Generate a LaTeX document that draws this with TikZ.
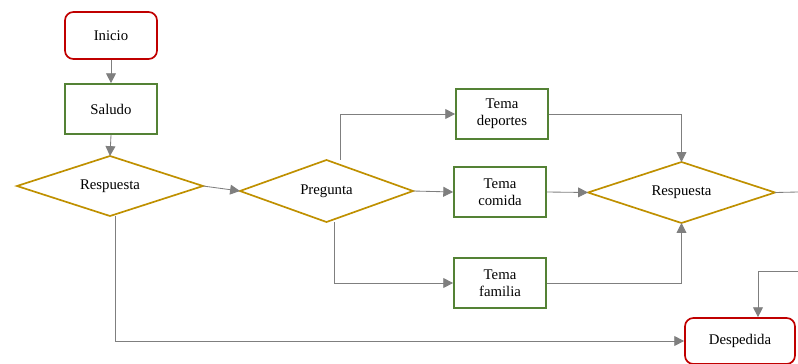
\documentclass[tikz,border=0pt]{standalone}
\usepackage{fontspec}
\setmainfont{Liberation Serif}
\usetikzlibrary{shapes.geometric,arrows.meta}
\definecolor{rojo}{RGB}{192,0,0}
\definecolor{verde}{RGB}{84,130,53}
\definecolor{dorado}{RGB}{191,144,0}
\definecolor{gris}{RGB}{127,127,127}
\begin{document}
\begin{tikzpicture}[x=0.025cm,y=-0.025cm,font=\fontsize{10.5}{12}\selectfont,
    terminal/.style={draw=rojo,line width=1.2pt,rounded corners=6pt,minimum width=2.3cm,minimum height=1.175cm},
    proceso/.style={draw=verde,line width=1.2pt,align=center,minimum width=2.3cm,minimum height=1.25cm},
    decision/.style={draw=dorado,line width=1.2pt,diamond,aspect=3,inner sep=0pt,outer sep=0pt},
    flecha/.style={draw=gris,line width=0.6pt,-{Triangle[length=7pt,width=7pt]}}]
  \useasboundingbox (0,0) rectangle (798,363);
  \node [terminal] (inicio) at (111,35.5) {Inicio};
  \node [proceso] (saludo) at (111,109) {Saludo};
  \node [decision,minimum width=4.65cm,minimum height=1.5cm] (resp1) at (110,186) {Respuesta};
  \node [decision,minimum width=4.325cm,minimum height=1.55cm] (pregunta) at (326.5,191) {Pregunta};
  \node [proceso] (deportes) at (502,114) {Tema\\deportes};
  \node [proceso] (comida) at (500,192) {Tema\\comida};
  \node [proceso] (familia) at (500,283) {Tema\\familia};
  \node [decision,minimum width=4.675cm,minimum height=1.525cm] (resp2) at (681.5,192.5) {Respuesta};
  \node [terminal,minimum width=2.75cm,minimum height=1.15cm] (despedida) at (740,341) {Despedida};
  \coordinate (salida) at (798,192);
  \coordinate (regreso) at (798,271);
  % conectores
  \draw [flecha] (inicio) -- (saludo);
  \draw [flecha] (saludo.south) -- (resp1.north);
  \draw [flecha] (resp1.east) -- (pregunta.west);
  \draw [flecha] ([xshift=0.35cm]pregunta.north) |- (deportes.west);
  \draw [flecha] (pregunta.east) -- (comida.west);
  \draw [flecha] ([xshift=0.19cm]pregunta.south) |- (familia.west);
  \draw [flecha] (deportes.east) -| (resp2.north);
  \draw [flecha] (comida.east) -- (resp2.west);
  \draw [flecha] (familia.east) -| (resp2.south);
  \draw [draw=gris,line width=0.6pt] (resp2.east) -- (salida);
  \draw [flecha] (regreso) -| ([xshift=0.45cm]despedida.north);
  \draw [flecha] ([xshift=0.125cm]resp1.south) |- (despedida.west);
\end{tikzpicture}
\end{document}
